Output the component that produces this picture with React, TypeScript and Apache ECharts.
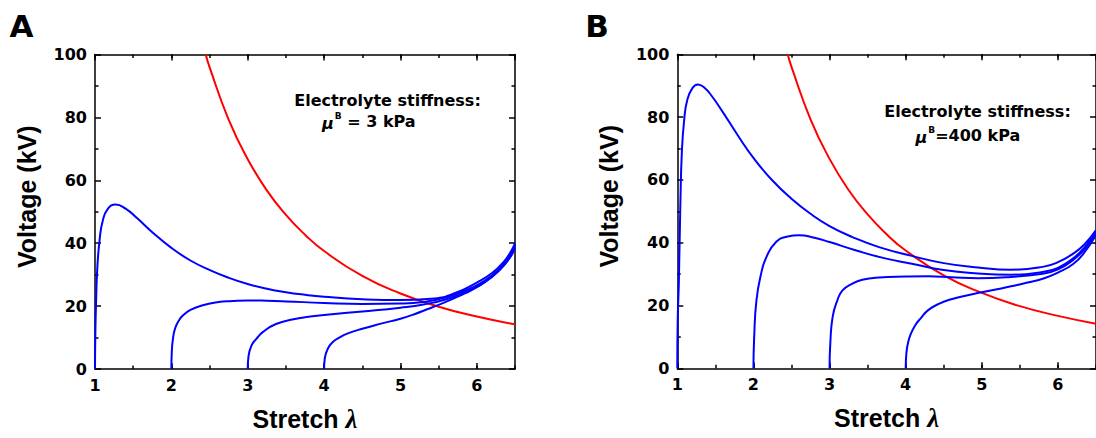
import React, { useEffect, useRef } from "react";
import * as echarts from "echarts";

// ---------- data ----------
type P = [number, number];

const X_MIN = 1;
const X_MAX = 6.5;
const Y_MIN = 0;
const Y_MAX = 100;

// red curve (same in both panels)
const redCurve: P[] = [
  [2.45, 100], [2.5, 96], [2.75, 79.3], [3.0, 66.7], [3.25, 56.8], [3.5, 49],
  [3.75, 42.7], [4.0, 37.5], [4.5, 29.6], [5.0, 24], [5.5, 19.8], [6.0, 16.7], [6.5, 14.2],
];

// Panel A (mu_B = 3 kPa)
const a1: P[] = [
  [1.0, 0], [1.005, 12], [1.015, 22], [1.03, 32], [1.06, 41], [1.1, 47], [1.17, 51],
  [1.27, 52.3], [1.4, 51], [1.55, 48], [1.75, 43.5], [2.0, 38.5], [2.25, 34.5], [2.5, 31.5],
  [2.75, 29], [3.0, 27], [3.25, 25.5], [3.5, 24.4], [3.75, 23.6], [4.0, 23], [4.5, 22.2],
  [5.0, 21.9], [5.4, 22.3], [5.7, 24], [6.0, 27.5], [6.2, 30.5], [6.35, 34], [6.45, 37.5], [6.5, 40],
];
const a2: P[] = [
  [2.0, 0], [2.005, 5], [2.02, 9.5], [2.05, 13], [2.1, 15.5], [2.15, 17], [2.25, 18.8],
  [2.4, 20.2], [2.6, 21.2], [2.8, 21.6], [3.0, 21.8], [3.25, 21.7], [3.5, 21.5], [4.0, 21],
  [4.5, 20.7], [5.0, 20.8], [5.3, 21.3], [5.6, 22.8], [5.9, 25.5], [6.1, 28], [6.3, 32],
  [6.42, 35.5], [6.5, 39.5],
];
const a3: P[] = [
  [3.0, 0], [3.01, 4], [3.05, 7.5], [3.11, 9.5], [3.2, 11.8], [3.37, 14.3], [3.6, 15.8],
  [3.8, 16.6], [4.0, 17.2], [4.5, 18.3], [5.0, 19.5], [5.3, 20.5], [5.6, 22.2], [5.9, 25],
  [6.1, 27.5], [6.3, 31.5], [6.42, 35], [6.5, 39],
];
const a4: P[] = [
  [4.0, 0], [4.01, 3.5], [4.05, 6.5], [4.11, 8.5], [4.2, 10], [4.32, 11.4], [4.5, 12.8],
  [4.76, 14.5], [5.0, 16], [5.19, 17.5], [5.35, 19], [5.5, 20.4], [5.7, 22.5], [5.85, 24.1],
  [6.0, 26], [6.2, 29.4], [6.35, 33], [6.45, 36], [6.5, 38.5],
];

// Panel B (mu_B = 400 kPa)
const b1: P[] = [
  [1.0, 0], [1.005, 15], [1.02, 27], [1.04, 52], [1.06, 69], [1.09, 79], [1.13, 85.4],
  [1.2, 89.3], [1.27, 90.4], [1.35, 89.5], [1.45, 86.8], [1.6, 81.5], [1.8, 74], [2.0, 67],
  [2.25, 59.8], [2.5, 54], [2.75, 49.2], [3.0, 45.3], [3.3, 41.8], [3.65, 38.6], [4.08, 35.8],
  [4.5, 33.5], [4.95, 32.1], [5.38, 31.4], [5.8, 32.3], [6.0, 33.8], [6.2, 36.5], [6.35, 39.5], [6.5, 44],
];
const b2: P[] = [
  [2.0, 0], [2.01, 10], [2.04, 21.7], [2.1, 30], [2.17, 35.4], [2.3, 40.3], [2.45, 42],
  [2.6, 42.4], [2.8, 41.6], [3.0, 40.2], [3.34, 37.6], [3.73, 35], [4.08, 33.3], [4.5, 31.3],
  [4.95, 30.2], [5.38, 29.8], [5.8, 30.7], [6.0, 32], [6.2, 35], [6.35, 38.5], [6.5, 43.5],
];
const b3: P[] = [
  [3.0, 0], [3.01, 8], [3.04, 16.3], [3.1, 21.5], [3.17, 24.8], [3.3, 27], [3.43, 28.2],
  [3.65, 28.9], [4.0, 29.2], [4.3, 29.3], [4.6, 29], [4.95, 28.7], [5.38, 29.1], [5.8, 30.1],
  [6.0, 31.5], [6.2, 34.5], [6.35, 38], [6.5, 43],
];
const b4: P[] = [
  [4.0, 0], [4.01, 5], [4.03, 8], [4.06, 10.5], [4.12, 13.5], [4.2, 16], [4.3, 18.6],
  [4.45, 20.7], [4.6, 22], [4.8, 23.2], [5.0, 24.2], [5.2, 25.2], [5.4, 26.2], [5.6, 27.3],
  [5.82, 28.7], [6.0, 30.5], [6.2, 33.2], [6.35, 37], [6.5, 42.5],
];

const panelLetters = ["A", "B"];
const stiffnessTitle = "Electrolyte stiffness:";
const stiffnessValues = [" = 3 kPa", "=400 kPa"];
const xTitle = "Stretch ";
const yTitle = "Voltage (kV)";

// ---------- styles ----------
const BLACK = "#000";
const BLUE = "#0000ff";
const RED = "#ff0000";
const AX = { color: BLACK, width: 1.5 };
const TICK_FONT = {
  color: BLACK,
  fontFamily: "DejaVu Sans",
  fontWeight: "bold" as const,
  fontSize: 16,
};

function xAxesFor(gridIndex: number) {
  const common = {
    type: "value" as const,
    gridIndex,
    min: X_MIN,
    max: X_MAX,
    splitLine: { show: false },
  };
  return [
    {
      ...common,
      position: "bottom",
      interval: 1,
      axisLine: { show: true, onZero: false, lineStyle: AX },
      axisTick: { show: true, inside: true, length: 6, lineStyle: AX },
      axisLabel: { show: true, showMaxLabel: false, margin: 8, ...TICK_FONT },
      name: "{a|" + xTitle + "}{b|λ}",
      nameLocation: "middle",
      nameGap: 36,
      nameTextStyle: {
        rich: {
          a: { fontFamily: "Liberation Sans", fontWeight: "bold", fontSize: 25, color: BLACK },
          b: { fontFamily: "Liberation Serif", fontStyle: "italic", fontWeight: "bold", fontSize: 27, color: BLACK },
        },
      },
    },
    {
      ...common,
      position: "bottom",
      interval: 0.5,
      axisLine: { show: false, onZero: false },
      axisTick: { show: true, inside: true, length: 3.5, lineStyle: AX },
      axisLabel: { show: false },
    },
    {
      ...common,
      position: "top",
      interval: 1,
      axisLine: { show: true, onZero: false, lineStyle: AX },
      axisTick: { show: true, inside: true, length: 6, lineStyle: AX },
      axisLabel: { show: false },
    },
    {
      ...common,
      position: "top",
      interval: 0.5,
      axisLine: { show: false, onZero: false },
      axisTick: { show: true, inside: true, length: 3.5, lineStyle: AX },
      axisLabel: { show: false },
    },
  ];
}

function yAxesFor(gridIndex: number) {
  const common = {
    type: "value" as const,
    gridIndex,
    min: Y_MIN,
    max: Y_MAX,
    interval: 20,
    splitLine: { show: false },
    minorSplitLine: { show: false },
    axisLine: { show: true, onZero: false, lineStyle: AX },
    axisTick: { show: true, inside: true, length: 6, lineStyle: AX },
    minorTick: { show: true, splitNumber: 2, length: 3.5, lineStyle: AX },
  };
  return [
    {
      ...common,
      position: "left",
      axisLabel: { show: true, margin: 8, ...TICK_FONT },
      name: yTitle,
      nameLocation: "middle",
      nameRotate: 90,
      nameGap: 56,
      nameTextStyle: {
        fontFamily: "Liberation Sans",
        fontWeight: "bold",
        fontSize: 25,
        color: BLACK,
        padding: [0, 0, 0, 30],
      },
    },
    {
      ...common,
      position: "right",
      axisLabel: { show: false },
    },
  ];
}

function lineSeries(data: P[], color: string, xAxisIndex: number, yAxisIndex: number) {
  return {
    type: "line" as const,
    data,
    xAxisIndex,
    yAxisIndex,
    symbol: "none",
    showSymbol: false,
    smooth: 0.5,
    clip: true,
    silent: true,
    lineStyle: { color, width: 2 },
    itemStyle: { color },
  };
}

function txt(x: number, y: number, text: string, font: any, align = "center", vAlign = "middle") {
  return {
    type: "text" as const,
    x,
    y,
    silent: true,
    style: { text, fill: BLACK, align, verticalAlign: vAlign, ...font },
  };
}

const ANN = { fontFamily: "DejaVu Sans", fontWeight: "bold", fontSize: 16 };
const LETTER = { fontFamily: "DejaVu Sans", fontWeight: "bold", fontSize: 31 };

function muLine(x: number, y: number, value: string) {
  return {
    type: "text" as const,
    x,
    y,
    silent: true,
    style: {
      text: "{mu|μ}{sup|B}{v|" + value + "}",
      align: "left",
      verticalAlign: "middle",
      fill: BLACK,
      rich: {
        mu: { fontFamily: "DejaVu Sans", fontWeight: "bold", fontStyle: "italic", fontSize: 16, fill: BLACK, lineHeight: 20, verticalAlign: "bottom" },
        sup: { fontFamily: "DejaVu Sans", fontWeight: "bold", fontSize: 9, fill: BLACK, lineHeight: 20, verticalAlign: "top", padding: [0, 0, 0, 1] },
        v: { fontFamily: "DejaVu Sans", fontWeight: "bold", fontSize: 16, fill: BLACK, lineHeight: 20 },
      },
    },
  };
}

export default function App() {
  const ref = useRef<HTMLDivElement>(null);

  useEffect(() => {
    if (!ref.current) return;
    const chart = echarts.init(ref.current, undefined, { renderer: "svg" });
    chart.setOption({
      animation: false,
      backgroundColor: "#fff",
      grid: [
        { left: 95, top: 54.5, width: 420, height: 314.5 },
        { left: 677.3, top: 54.3, width: 420, height: 314 },
      ],
      xAxis: [...xAxesFor(0), ...xAxesFor(1)],
      yAxis: [...yAxesFor(0), ...yAxesFor(1)],
      series: [
        lineSeries(redCurve, RED, 0, 0),
        lineSeries(a1, BLUE, 0, 0),
        lineSeries(a2, BLUE, 0, 0),
        lineSeries(a3, BLUE, 0, 0),
        lineSeries(a4, BLUE, 0, 0),
        lineSeries(redCurve, RED, 4, 2),
        lineSeries(b1, BLUE, 4, 2),
        lineSeries(b2, BLUE, 4, 2),
        lineSeries(b3, BLUE, 4, 2),
        lineSeries(b4, BLUE, 4, 2),
      ],
      graphic: [
        txt(21.5, 26, panelLetters[0], LETTER),
        txt(597, 26, panelLetters[1], LETTER),
        // panel A annotation
        txt(387.5, 100, stiffnessTitle, ANN),
        muLine(322, 121, stiffnessValues[0]),
        // panel B annotation
        txt(977.5, 111, stiffnessTitle, ANN),
        muLine(915.5, 135, stiffnessValues[1]),
      ],
    });
    return () => chart.dispose();
  }, []);

  return (
    <div
      ref={ref}
      style={{ position: "absolute", left: 0, top: 0, width: 1096, height: 438, background: "#fff" }}
    />
  );
}
